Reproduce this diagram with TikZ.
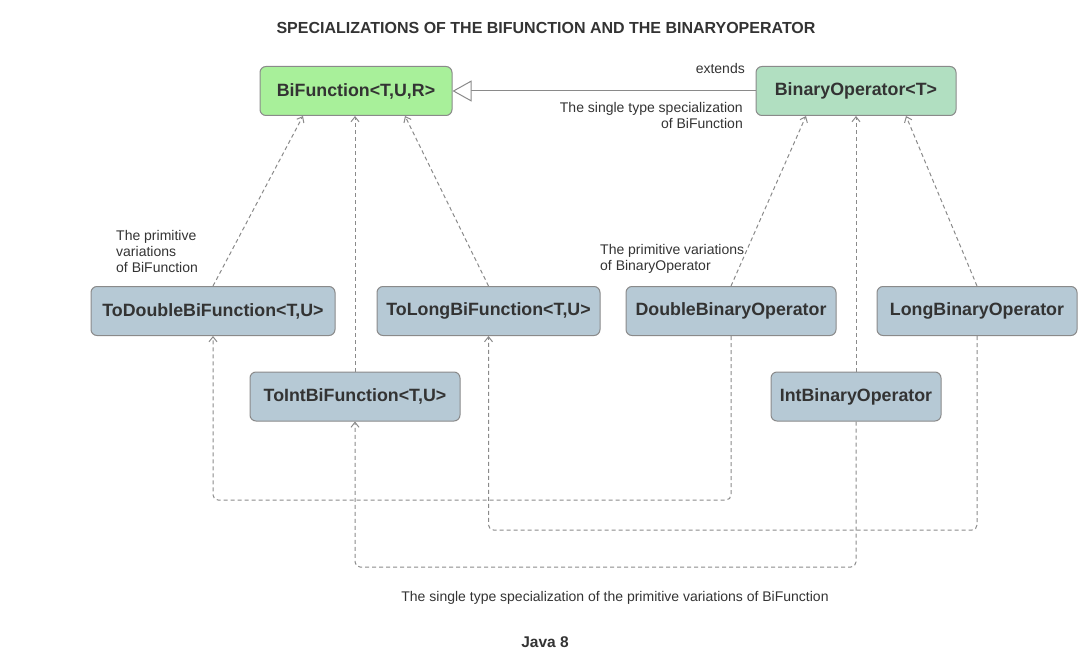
\documentclass[tikz,border=0pt]{standalone}
\usepackage{fontspec}
\setmainfont{Liberation Sans}
\usepackage{xcolor}
\usepackage{tikz}
\usetikzlibrary{positioning,arrows.meta}

\definecolor{bfgreen}{HTML}{A8F09A}
\definecolor{bogreen}{HTML}{B1DFC1}
\definecolor{primblue}{HTML}{B6C9D5}
\definecolor{edgegray}{HTML}{8A8A8A}
\definecolor{textgray}{HTML}{333333}

\tikzset{
  iface/.style={draw=edgegray, line width=1pt, rounded corners=6pt, text=textgray, font=\fontsize{17.8}{20}\selectfont\bfseries, minimum height=49pt, inner sep=0pt},
  note/.style={text=textgray, font=\fontsize{14}{16}\selectfont, inner sep=0pt, align=left},
  dep/.style={draw=edgegray, line width=1pt, dash pattern=on 4pt off 3pt, -{Straight Barb[length=5pt,width=8pt]}},
  ext/.style={draw=edgegray, line width=1pt, -{Triangle[open,length=19pt,width=21pt,fill=white]}}
}

\begin{document}
\begin{tikzpicture}[x=1pt, y=-1pt]
    \useasboundingbox (0,0) rectangle (1078,666);

    \node [text=textgray, font=\fontsize{16}{19}\selectfont\bfseries] (TITLE) at (546,28) {SPECIALIZATIONS OF THE BIFUNCTION AND THE BINARYOPERATOR};

    \node [iface, fill=bfgreen, minimum width=192pt] (BF) at (356,91) {BiFunction<T,U,R>};
    \node [iface, fill=bogreen, minimum width=200pt] (BO) at (856,91) {BinaryOperator<T>};

    \node [iface, fill=primblue, minimum width=244pt] (TDBF) at (213,311) {ToDoubleBiFunction<T,U>};
    \node [iface, fill=primblue, minimum width=223pt] (TLBF) at (488.5,311) {ToLongBiFunction<T,U>};
    \node [iface, fill=primblue, minimum width=210pt] (TIBF) at (355,396.5) {ToIntBiFunction<T,U>};

    \node [iface, fill=primblue, minimum width=210pt] (DBO) at (731,311) {DoubleBinaryOperator};
    \node [iface, fill=primblue, minimum width=200pt] (LBO) at (977,311) {LongBinaryOperator};
    \node [iface, fill=primblue, minimum width=170pt] (IBO) at (856,396.5) {IntBinaryOperator};

    \draw [ext] (BO.west) to (BF.east);
    \node [note, anchor=south east] (EXT) at (745,74) {extends};
    \node [note, anchor=north east, align=right] (SINGLE) at (743,102) {The single type specialization\\of BiFunction};

    \draw [dep] (TDBF.north) to ([xshift=-53pt]BF.south);
    \draw [dep] (TIBF.north) to (TIBF.north |- BF.south);
    \draw [dep] (TLBF.north) to ([xshift=49pt]BF.south);

    \draw [dep] (DBO.north) to ([xshift=-50pt]BO.south);
    \draw [dep] (IBO.north) to (IBO.north |- BO.south);
    \draw [dep] (LBO.north) to ([xshift=50pt]BO.south);

    \draw [dep, rounded corners=5pt] (DBO.south) -- (DBO.south |- 0,500) -| (TDBF.south);
    \draw [dep, rounded corners=5pt] (LBO.south) -- (LBO.south |- 0,530) -| (TLBF.south);
    \draw [dep, rounded corners=5pt] (IBO.south) -- (IBO.south |- 0,567) -| (TIBF.south);

    \node [note, anchor=north west] (PRIMBF) at (116,230) {The primitive\\variations\\of BiFunction};
    \node [note, anchor=north west] (PRIMBO) at (600,244) {The primitive variations\\of BinaryOperator};

    \node [note] (SINGLEPRIM) at (615,598) {The single type specialization of the primitive variations of BiFunction};
    \node [text=textgray, font=\fontsize{15.5}{18}\selectfont\bfseries] (JAVA) at (545,642) {Java 8};
\end{tikzpicture}
\end{document}
